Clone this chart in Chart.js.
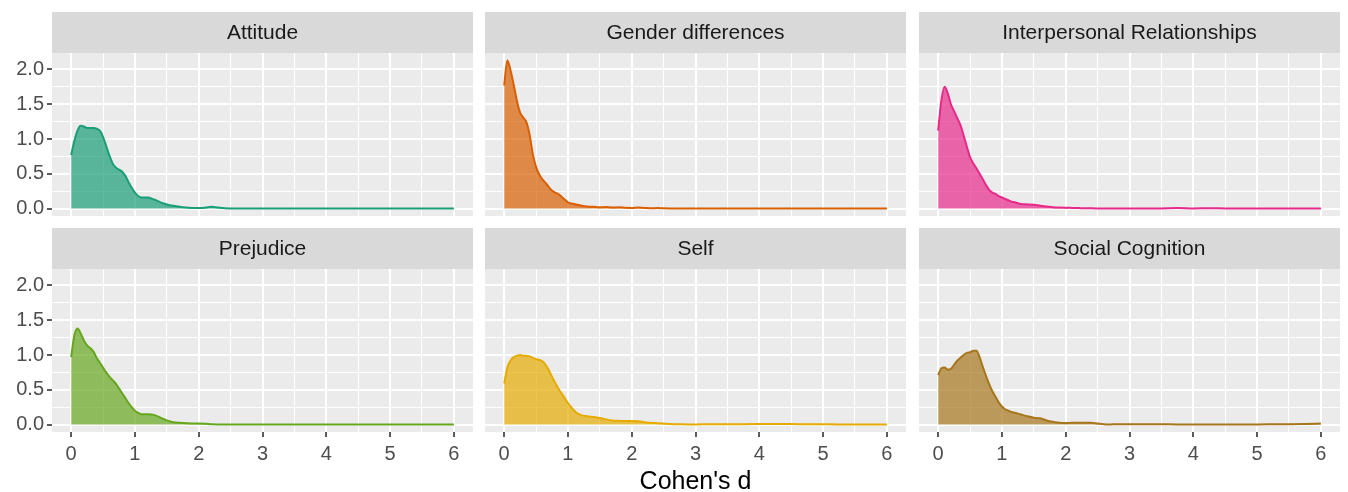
<!DOCTYPE html>
<html>
<head>
<meta charset="utf-8">
<script src="https://cdn.jsdelivr.net/npm/chart.js@4.4.1/dist/chart.umd.min.js"></script>
<style>
  html, body { margin: 0; padding: 0; background: #ffffff; }
  body { width: 1348px; height: 492px; position: relative; overflow: hidden; }
  canvas { position: absolute; }
</style>
</head>
<body>
<script>
// Effect size grid (Cohen's d) at which each density is evaluated
const effectSizes = [
  0, 0.05, 0.1, 0.15, 0.2, 0.25, 0.3, 0.35, 0.4, 0.45, 0.5, 0.55, 0.6, 0.65, 0.7, 0.75, 0.8, 0.85, 0.9, 0.95, 1.0, 1.05, 1.1, 1.15, 1.2,
  1.3, 1.4, 1.5, 1.6, 1.7, 1.8, 1.9, 2.0, 2.1, 2.2, 2.3, 2.4, 2.5, 2.6, 2.7, 2.8, 2.9, 3.0,
  3.25, 3.5, 3.75, 4.0, 4.25, 4.5, 4.75, 5.0, 5.25, 5.5, 5.75, 6.0
];

const topics = ['Attitude', 'Gender differences', 'Interpersonal Relationships', 'Prejudice', 'Self', 'Social Cognition'];

// Estimated densities per topic
const attitude = [
  0.77, 0.97, 1.12, 1.19, 1.18, 1.16, 1.16, 1.16, 1.15, 1.12, 1.03, 0.90, 0.76, 0.65, 0.59, 0.56, 0.53, 0.47, 0.38, 0.30, 0.23, 0.18, 0.16, 0.16, 0.16,
  0.13, 0.09, 0.06, 0.04, 0.025, 0.015, 0.01, 0.008, 0.012, 0.025, 0.015, 0.005, 0.002, 0.001, 0.001, 0.001, 0.001, 0.001,
  0.001, 0.001, 0.001, 0.001, 0.001, 0.001, 0.001, 0.001, 0.001, 0.001, 0.001, 0.001
];
const genderDifferences = [
  1.77, 2.13, 1.99, 1.78, 1.55, 1.38, 1.31, 1.24, 1.06, 0.78, 0.60, 0.49, 0.42, 0.37, 0.31, 0.26, 0.23, 0.21, 0.17, 0.13, 0.09, 0.075, 0.065, 0.055, 0.045,
  0.03, 0.025, 0.02, 0.022, 0.015, 0.018, 0.012, 0.01, 0.015, 0.01, 0.005, 0.008, 0.005, 0.003, 0.002, 0.002, 0.001, 0.001,
  0.001, 0.001, 0.001, 0.001, 0.001, 0.001, 0.001, 0.001, 0.001, 0.001, 0.001, 0.001
];
const interpersonal = [
  1.12, 1.55, 1.75, 1.66, 1.50, 1.40, 1.30, 1.20, 1.05, 0.89, 0.74, 0.65, 0.58, 0.50, 0.42, 0.34, 0.27, 0.23, 0.21, 0.18, 0.16, 0.14, 0.12, 0.10, 0.09,
  0.065, 0.06, 0.055, 0.04, 0.03, 0.02, 0.015, 0.012, 0.01, 0.008, 0.005, 0.004, 0.003, 0.002, 0.002, 0.002, 0.002, 0.002,
  0.002, 0.003, 0.008, 0.003, 0.006, 0.002, 0.001, 0.001, 0.001, 0.001, 0.001, 0.001
];
const prejudice = [
  0.97, 1.28, 1.38, 1.31, 1.21, 1.14, 1.10, 1.05, 0.96, 0.89, 0.82, 0.75, 0.69, 0.64, 0.59, 0.52, 0.45, 0.38, 0.31, 0.25, 0.20, 0.17, 0.15, 0.15, 0.15,
  0.14, 0.10, 0.06, 0.035, 0.025, 0.02, 0.015, 0.015, 0.012, 0.004, 0.002, 0.002, 0.003, 0.002, 0.001, 0.001, 0.001, 0.001,
  0.001, 0.001, 0.001, 0.001, 0.001, 0.001, 0.001, 0.001, 0.001, 0.001, 0.001, 0.001
];
const self = [
  0.59, 0.82, 0.92, 0.97, 0.99, 1.00, 0.99, 0.99, 0.98, 0.96, 0.94, 0.93, 0.91, 0.86, 0.78, 0.69, 0.60, 0.52, 0.45, 0.38, 0.31, 0.25, 0.20, 0.16, 0.14,
  0.12, 0.11, 0.095, 0.075, 0.06, 0.055, 0.05, 0.05, 0.048, 0.035, 0.025, 0.02, 0.015, 0.01, 0.006, 0.004, 0.003, 0.003,
  0.004, 0.004, 0.005, 0.007, 0.01, 0.008, 0.005, 0.004, 0.003, 0.003, 0.003, 0.003
];
const socialCognition = [
  0.71, 0.81, 0.82, 0.79, 0.80, 0.86, 0.92, 0.96, 1.00, 1.03, 1.04, 1.06, 1.06, 0.97, 0.83, 0.70, 0.58, 0.48, 0.40, 0.32, 0.26, 0.22, 0.20, 0.18, 0.17,
  0.145, 0.12, 0.10, 0.09, 0.06, 0.04, 0.025, 0.022, 0.025, 0.025, 0.028, 0.028, 0.015, 0.006, 0.003, 0.004, 0.004, 0.004,
  0.004, 0.004, 0.003, 0.003, 0.003, 0.003, 0.003, 0.003, 0.004, 0.005, 0.008, 0.015
];

const densityTicks = [0, 0.5, 1, 1.5, 2];
const effectTicks = [0, 1, 2, 3, 4, 5, 6];
const xTitle = "Cohen's d";

const series = [attitude, genderDifferences, interpersonal, prejudice, self, socialCognition];
const palette = ['#1B9E77', '#D95F02', '#E7298A', '#66A61E', '#E6AB02', '#A6761D'];

// ---- layout of the 2 x 3 facet grid ----
const FONT = '"Liberation Sans", Arial, Helvetica, sans-serif';
const STRIP_H = 41;
const PLOT_H = 163;
const colLeft = [0, 485, 919];
const colWidth = [473, 421, 421];
const yAxisW = [52, 0, 0];
const rowTop = [12, 228];
const xAxisH = [0, 65];

function withMinors(majors) {
  const out = [];
  majors.forEach((v, i) => {
    out.push(v);
    if (i < majors.length - 1) out.push((v + majors[i + 1]) / 2);
  });
  return out;
}
const yGrid = withMinors(densityTicks);
const xGrid = withMinors(effectTicks);

function hexAlpha(hex, a) {
  const n = parseInt(hex.slice(1), 16);
  return `rgba(${(n >> 16) & 255}, ${(n >> 8) & 255}, ${n & 255}, ${a})`;
}

// Panel background and grey facet strip with its label
const facetStrip = {
  id: 'facetStrip',
  beforeDraw(chart, args, opts) {
    const { ctx, chartArea: a } = chart;
    ctx.save();
    ctx.fillStyle = '#EBEBEB';
    ctx.fillRect(a.left, a.top, a.right - a.left, a.bottom - a.top);
    ctx.fillStyle = '#D9D9D9';
    ctx.fillRect(a.left, 0, a.right - a.left, STRIP_H);
    ctx.fillStyle = '#1A1A1A';
    ctx.font = `21px ${FONT}`;
    ctx.textAlign = 'center';
    ctx.textBaseline = 'middle';
    ctx.fillText(opts.label, (a.left + a.right) / 2, STRIP_H / 2 + 1);
    ctx.restore();
  }
};

function gridOptions(majors, showTicks) {
  const isMajor = c => c && c.tick && majors.includes(c.tick.value);
  return {
    color: '#FFFFFF',
    lineWidth: c => (isMajor(c) ? 2 : 1),
    drawTicks: showTicks,
    tickLength: 5,
    tickWidth: 1.6,
    tickColor: c => (isMajor(c) ? '#333333' : 'rgba(0,0,0,0)')
  };
}

// Keep every panel's plotting area the same size: no label overflow padding
function fixPadding(axis) {
  axis.paddingTop = 0;
  axis.paddingBottom = 0;
  axis.paddingLeft = 0;
  axis.paddingRight = 0;
}

topics.forEach((topic, k) => {
  const row = Math.floor(k / 3);
  const col = k % 3;
  const canvas = document.createElement('canvas');
  const w = colWidth[col];
  const h = STRIP_H + PLOT_H + xAxisH[row];
  canvas.width = w;
  canvas.height = h;
  canvas.style.left = colLeft[col] + 'px';
  canvas.style.top = rowTop[row] + 'px';
  canvas.style.width = w + 'px';
  canvas.style.height = h + 'px';
  document.body.appendChild(canvas);

  const showY = col === 0;
  const showX = row === 1;
  const color = palette[k];

  new Chart(canvas, {
    type: 'line',
    data: {
      datasets: [{
        label: topic,
        data: effectSizes.map((x, i) => ({ x, y: series[k][i] })),
        borderColor: color,
        backgroundColor: hexAlpha(color, 0.7),
        borderWidth: 2,
        fill: 'origin',
        pointRadius: 0,
        cubicInterpolationMode: 'monotone'
      }]
    },
    options: {
      responsive: false,
      animation: false,
      devicePixelRatio: 1,
      layout: { padding: { top: STRIP_H, left: 0, right: 0, bottom: 0 } },
      plugins: {
        legend: { display: false },
        tooltip: { enabled: false },
        facetStrip: { label: topic }
      },
      scales: {
        x: {
          type: 'linear',
          min: -0.3,
          max: 6.3,
          border: { display: false },
          grid: gridOptions(effectTicks, showX),
          afterBuildTicks: axis => { axis.ticks = xGrid.map(v => ({ value: v })); },
          afterFit: axis => { axis.height = xAxisH[row]; fixPadding(axis); },
          ticks: {
            display: showX,
            autoSkip: false,
            maxRotation: 0,
            padding: 5,
            color: '#4D4D4D',
            font: { family: FONT, size: 20 },
            callback: v => (effectTicks.includes(v) ? String(v) : '')
          },
          title: {
            display: showX && col === 1,
            text: xTitle,
            color: '#000000',
            font: { family: FONT, size: 25 },
            padding: { top: 0, bottom: 0 }
          }
        },
        y: {
          type: 'linear',
          min: -0.1065,
          max: 2.2365,
          border: { display: false },
          grid: gridOptions(densityTicks, showY),
          afterBuildTicks: axis => { axis.ticks = yGrid.map(v => ({ value: v })); },
          afterFit: axis => { axis.width = yAxisW[col]; fixPadding(axis); },
          ticks: {
            display: showY,
            autoSkip: false,
            padding: 3,
            color: '#4D4D4D',
            font: { family: FONT, size: 20 },
            callback: v => (densityTicks.includes(v) ? v.toFixed(1) : '')
          }
        }
      }
    },
    plugins: [facetStrip]
  });
});
</script>
</body>
</html>
